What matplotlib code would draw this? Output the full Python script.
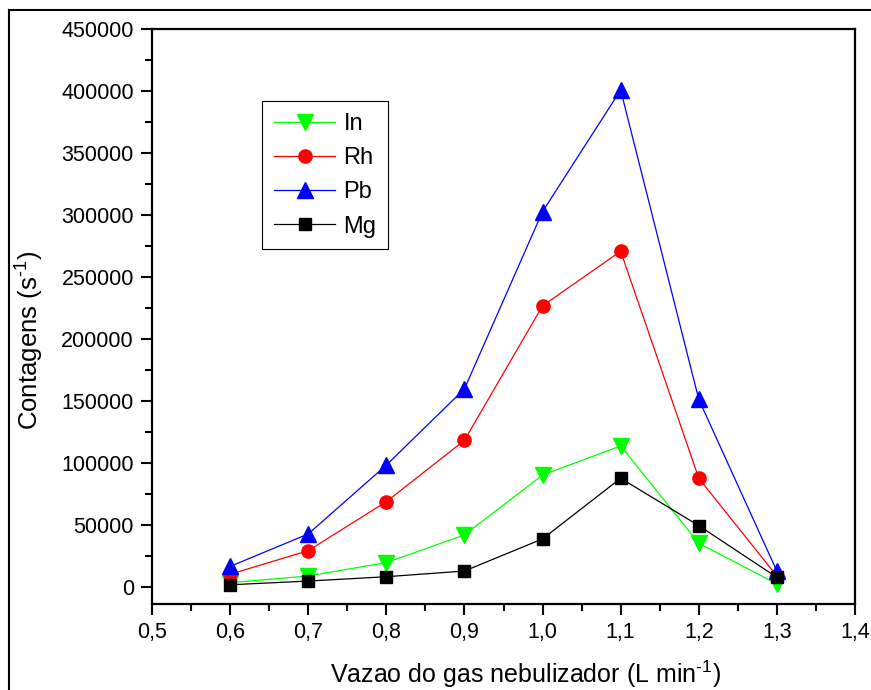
import matplotlib
matplotlib.use("Agg")
import matplotlib.pyplot as plt
from matplotlib.lines import Line2D
from matplotlib.ticker import MultipleLocator, FuncFormatter

flow = [0.6, 0.7, 0.8, 0.9, 1.0, 1.1, 1.2, 1.3]
In = [3200, 8600, 19400, 41700, 90000, 113500, 35000, 2200]
Rh = [10000, 29000, 68500, 118000, 226500, 270500, 87400, 8500]
Pb = [16300, 42500, 98000, 159500, 302500, 400500, 151000, 12500]
Mg = [1500, 4500, 8000, 12600, 38500, 87400, 49200, 7500]

plt.rcParams['font.family'] = ['Liberation Sans', 'DejaVu Sans']
plt.rcParams['mathtext.fontset'] = 'custom'
plt.rcParams['mathtext.rm'] = 'Liberation Sans'
plt.rcParams['mathtext.it'] = 'Liberation Sans:italic'

fig = plt.figure(figsize=(8.71, 6.90), dpi=100)
ax = fig.add_axes([152 / 871, 1 - 604 / 690, 703 / 871, 575.3 / 690])

ax.plot(flow, In, color="#00ff00", lw=0.9, marker="v", ms=11, label="In")
ax.plot(flow, Rh, color="#ff0000", lw=0.9, marker="o", ms=9.5, label="Rh")
ax.plot(flow, Pb, color="#0000ff", lw=0.9, marker="^", ms=11, label="Pb")
ax.plot(flow, Mg, color="black", lw=0.9, marker="s", ms=8.5, label="Mg")

ax.set_xlim(0.5, 1.4)
ax.set_ylim(-14000, 450000)
ax.xaxis.set_major_locator(MultipleLocator(0.1))
ax.xaxis.set_minor_locator(MultipleLocator(0.05))
ax.yaxis.set_major_locator(MultipleLocator(50000))
ax.yaxis.set_minor_locator(MultipleLocator(25000))
ax.xaxis.set_major_formatter(FuncFormatter(lambda v, p: ("%.1f" % v).replace(".", ",")))
ax.yaxis.set_major_formatter(FuncFormatter(lambda v, p: "%d" % round(v)))

for s in ax.spines.values():
    s.set_linewidth(1.6)
ax.tick_params(which="major", direction="out", length=8, width=1.5, labelsize=15.5, pad=5)
ax.tick_params(which="minor", direction="out", length=5, width=1.5)

ax.set_xlabel(r"Vazao do gas nebulizador (L min$^{\text{-1}}$)", fontsize=18, va="top")
ax.set_ylabel(r"Contagens (s$^{\text{-1}}$)", fontsize=18.5)
ax.xaxis.set_label_coords(0.531, -0.095)
ax.yaxis.set_label_coords(-0.151, 0.459)

leg = ax.legend(loc="upper left", bbox_to_anchor=(262 / 871, 1 - 101 / 690),
                bbox_transform=fig.transFigure, borderaxespad=0, fontsize=17,
                fancybox=False, framealpha=1, edgecolor="black",
                handlelength=2.6, labelspacing=0.52, borderpad=0.5, handletextpad=0.35)
leg.get_frame().set_linewidth(0.8)

# outer frame of the figure
fig.add_artist(Line2D([9 / 871, 9 / 871], [0, 1 - 10 / 690], transform=fig.transFigure, color="black", lw=1.5))
fig.add_artist(Line2D([9 / 871, 1], [1 - 10 / 690, 1 - 10 / 690], transform=fig.transFigure, color="black", lw=1.5))

fig.savefig("out.png", dpi=100)
